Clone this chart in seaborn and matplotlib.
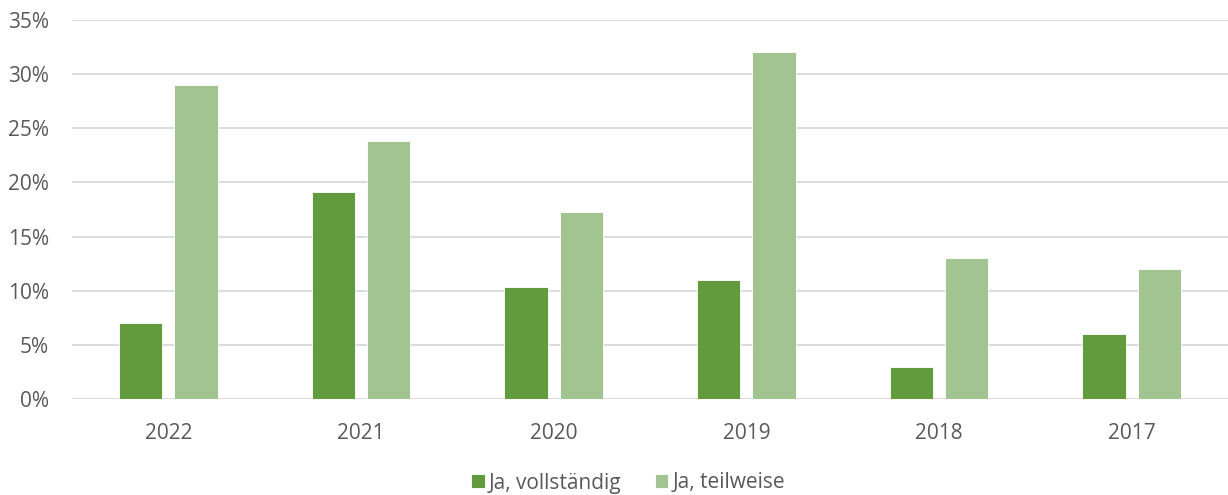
import matplotlib
matplotlib.use("Agg")
import matplotlib.pyplot as plt
import seaborn as sns
import pandas as pd
from matplotlib.ticker import FuncFormatter, MultipleLocator

years = ["2022", "2021", "2020", "2019", "2018", "2017"]
vollstaendig = [7.0, 19.1, 10.3, 11.0, 3.0, 6.0]
teilweise = [29.0, 23.8, 17.3, 32.0, 13.0, 12.0]
series_names = ["Ja, vollständig", "Ja, teilweise"]
colors = ["#629A3E", "#A2C490"]

df = pd.DataFrame({
    "Jahr": years * 2,
    "Wert": vollstaendig + teilweise,
    "Serie": [series_names[0]] * len(years) + [series_names[1]] * len(years),
})

sns.set_theme(style="white")
plt.rcParams["font.family"] = ["Open Sans", "DejaVu Sans"]

fig = plt.figure(figsize=(12.28, 4.95), dpi=100)
ax = fig.add_axes([72 / 1228, 1 - 399 / 495, 1156 / 1228, 379 / 495])

sns.barplot(data=df, x="Jahr", y="Wert", hue="Serie", order=years,
            hue_order=series_names, palette=colors, saturation=1,
            width=0.575, gap=0.22,
            edgecolor="white", linewidth=0.6, ax=ax, legend=True, zorder=3)

ax.set_ylim(0, 35)
ax.yaxis.set_major_locator(MultipleLocator(5))
ax.yaxis.set_major_formatter(FuncFormatter(lambda v, p: f"{v:.0f}%"))
ax.grid(axis="y", color="#D9D9D9", linewidth=1.3, zorder=0)
ax.set_axisbelow(True)
for s in ax.spines.values():
    s.set_visible(False)
ax.set_xlabel("")
ax.set_ylabel("")
ax.tick_params(axis="both", length=0, labelsize=15, labelcolor="#595959")
ax.tick_params(axis="x", pad=17)
ax.tick_params(axis="y", pad=16.5)

h, l = ax.get_legend_handles_labels()
ax.get_legend().remove()
fig.legend(h, l, loc="center", bbox_to_anchor=(628 / 1228, 1 - 483 / 495),
           ncol=2, frameon=False, fontsize=15, labelcolor="#595959",
           handlelength=0.65, handleheight=0.65, handletextpad=0.2,
           columnspacing=1.6)

fig.savefig("out.png", dpi=100)
